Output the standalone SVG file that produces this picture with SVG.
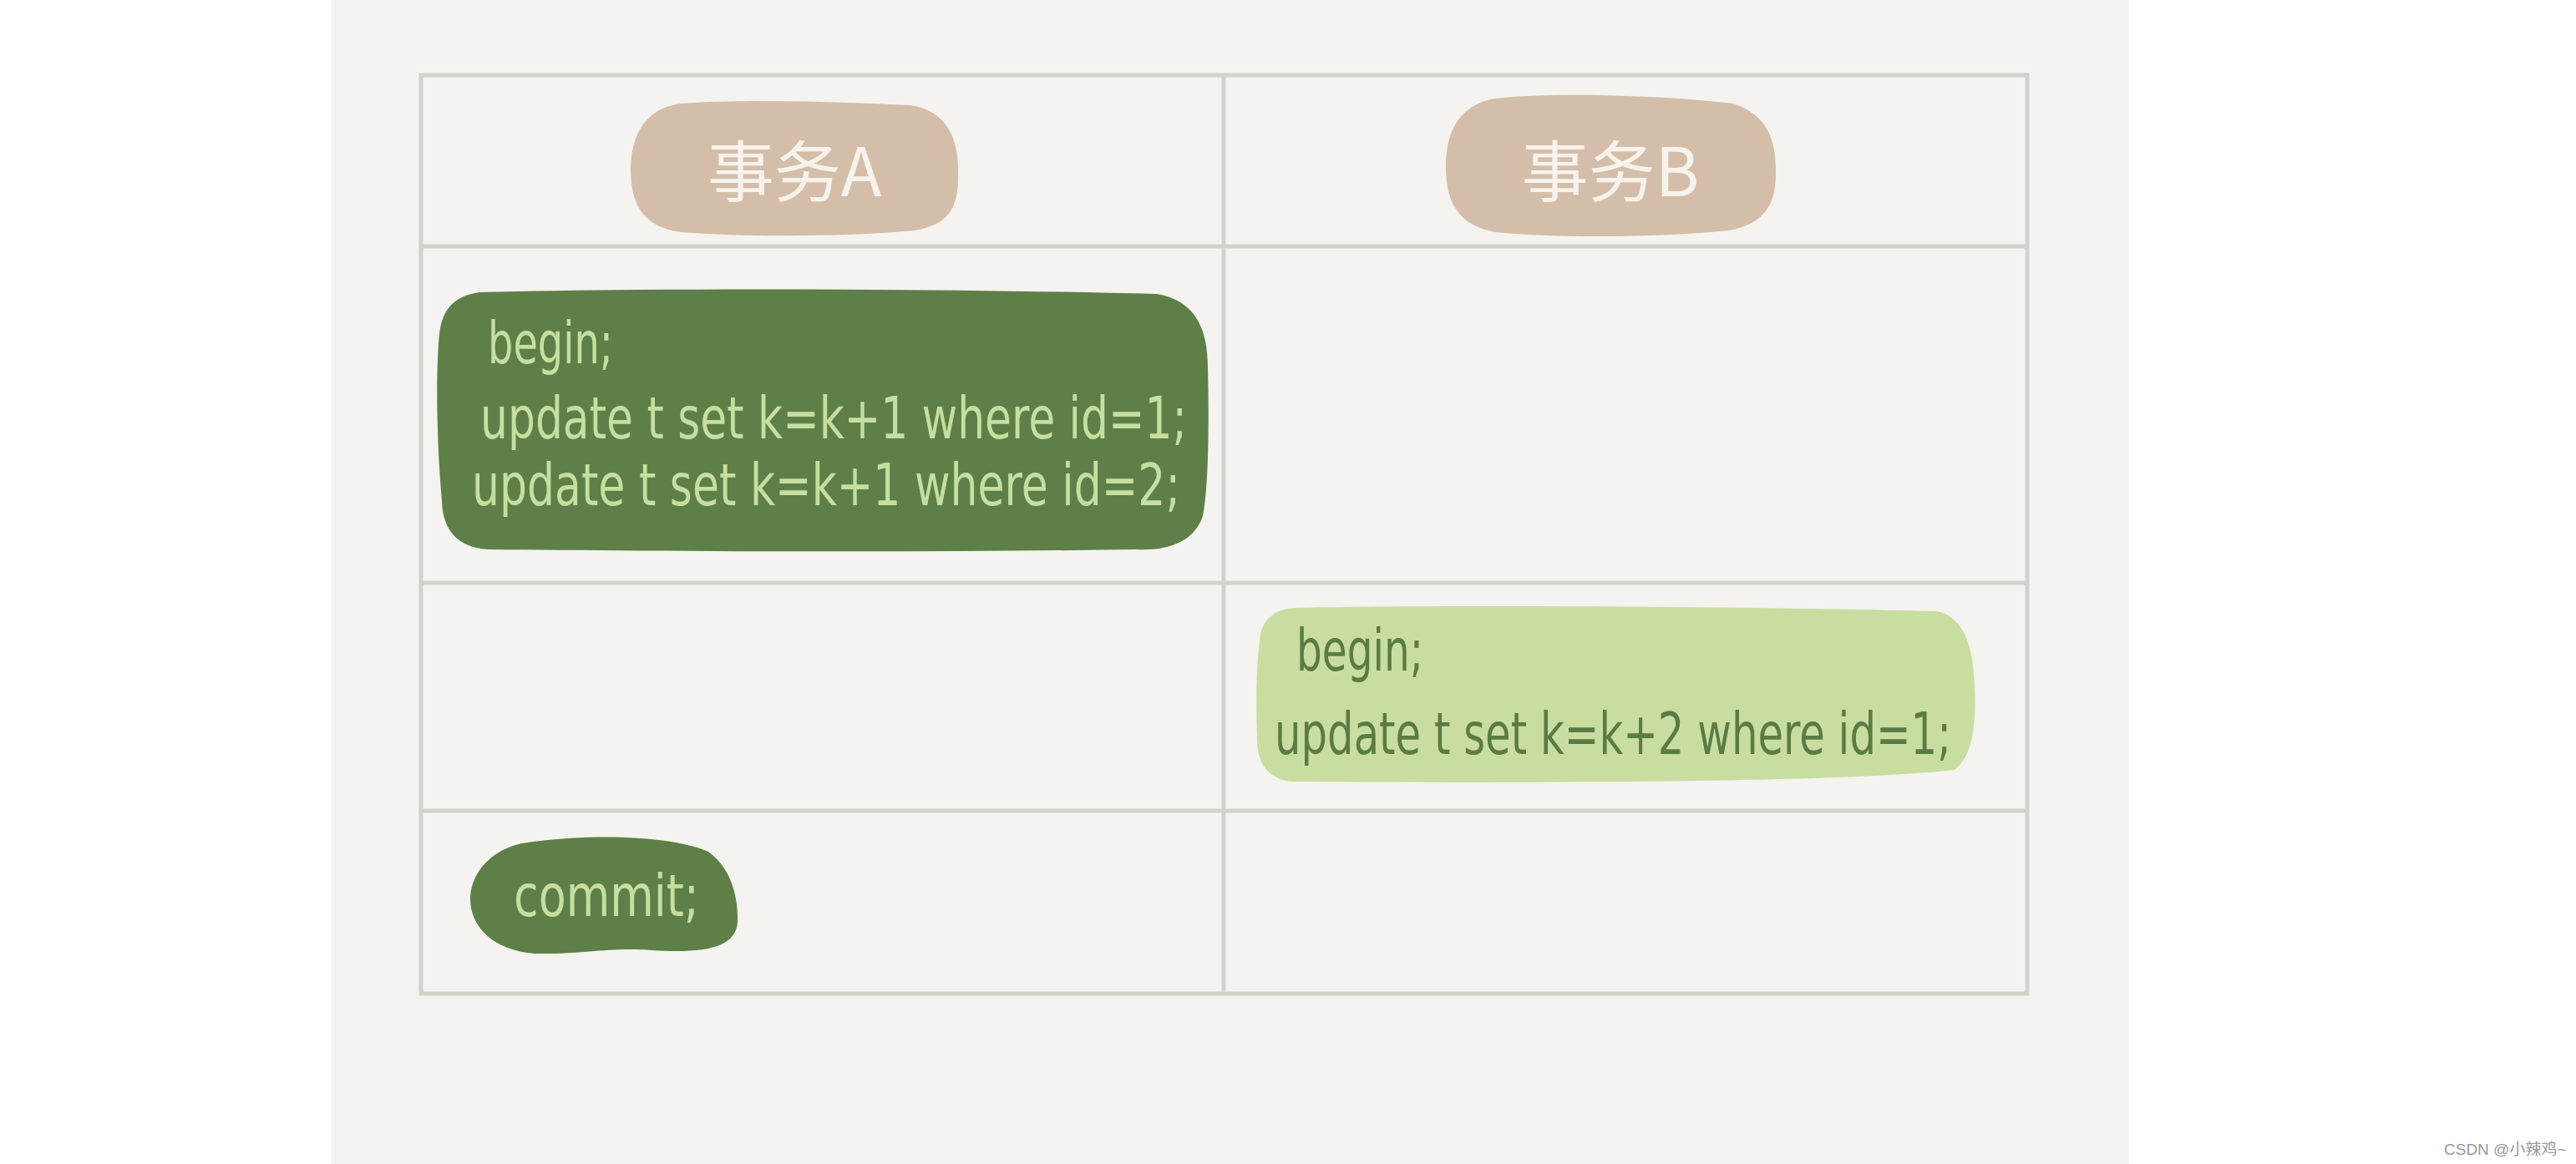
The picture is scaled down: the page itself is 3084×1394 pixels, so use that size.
<svg xmlns="http://www.w3.org/2000/svg" width="3084" height="1394" viewBox="0 0 3084 1394">
<style>
.grid{stroke:#d3d1cc;stroke-width:5;fill:none}
.pill{fill:#d4bea9}
.pilltxt{font-family:"Noto Sans CJK SC","Liberation Sans",sans-serif;font-size:80px;fill:#f7f3ec;text-anchor:middle}
.dark{fill:#5e8048}
.light{fill:#c9dda1}
.code{font-family:"Liberation Sans Narrow","DejaVu Sans Condensed","Liberation Sans",sans-serif;font-size:70px}
.codeL{fill:#c6de9f}
.codeD{fill:#5a7c44}
.wm{font-family:"Liberation Sans","Noto Sans CJK SC",sans-serif;font-size:19px;fill:#999999}
</style>
<rect x="0" y="0" width="3084" height="1394" fill="#ffffff"/>
<rect x="397" y="0" width="2152" height="1394" fill="#f4f3ef"/>
<g id="table">
<rect class="grid" x="504" y="90" width="1923" height="1100"/>
<line class="grid" x1="1465" y1="90" x2="1465" y2="1190"/>
<line class="grid" x1="504" y1="295" x2="2427" y2="295"/>
<line class="grid" x1="504" y1="698" x2="2427" y2="698"/>
<line class="grid" x1="504" y1="971" x2="2427" y2="971"/>
</g>
<g id="headerA">
<path class="pill" d="M815 124 C890 118 1010 122 1090 126 C1135 132 1148 170 1147 205 C1148 245 1140 268 1095 276 C1010 284 890 284 815 278 C772 272 756 248 755 205 C755 162 772 130 815 124 Z"/>
<text class="pilltxt" x="951" y="235">事务A</text>
</g>
<g id="headerB">
<path class="pill" d="M1790 118 C1860 110 1990 114 2075 124 C2118 138 2126 170 2126 205 C2127 245 2112 268 2070 276 C1990 284 1870 286 1790 278 C1748 270 1731 245 1731 200 C1731 160 1745 126 1790 118 Z"/>
<text class="pilltxt" x="1928" y="235">事务B</text>
</g>
<g id="txA">
<path class="dark" d="M575 350 C800 344 1150 346 1385 352 C1432 360 1446 395 1446 440 C1448 520 1446 590 1440 618 C1430 648 1400 660 1360 658 C1100 662 800 660 585 658 C548 656 530 635 529 600 C522 520 522 440 526 400 C530 368 545 354 575 350 Z"/>
<text class="code codeL" x="584" y="435" textLength="150" lengthAdjust="spacingAndGlyphs">begin;</text>
<text class="code codeL" x="575" y="525" textLength="846" lengthAdjust="spacingAndGlyphs">update t set  k=k+1 where  id=1;</text>
<text class="code codeL" x="565" y="605" textLength="848" lengthAdjust="spacingAndGlyphs">update t set  k=k+1 where  id=2;</text>
</g>
<g id="txB">
<path class="light" d="M1550 728 C1700 724 2100 726 2320 732 C2352 740 2362 775 2364 820 C2366 870 2362 905 2340 922 C2200 938 1800 938 1545 936 C1515 932 1504 910 1505 880 C1503 830 1505 780 1510 755 C1516 738 1530 729 1550 728 Z"/>
<text class="code codeD" x="1552" y="803" textLength="152" lengthAdjust="spacingAndGlyphs">begin;</text>
<text class="code codeD" x="1526" y="903" textLength="810" lengthAdjust="spacingAndGlyphs">update t set k=k+2 where id=1;</text>
</g>
<g id="commitA">
<path class="dark" d="M625 1010 C700 998 805 1000 848 1020 C876 1040 884 1075 883 1105 C880 1135 845 1142 780 1138 C730 1134 700 1143 640 1142 C590 1138 564 1110 563 1078 C563 1045 588 1018 625 1010 Z"/>
<text class="code codeL" x="615" y="1097" textLength="222" lengthAdjust="spacingAndGlyphs">commit;</text>
</g>
<text class="wm" x="2926" y="1383">CSDN @小辣鸡~</text>
</svg>
